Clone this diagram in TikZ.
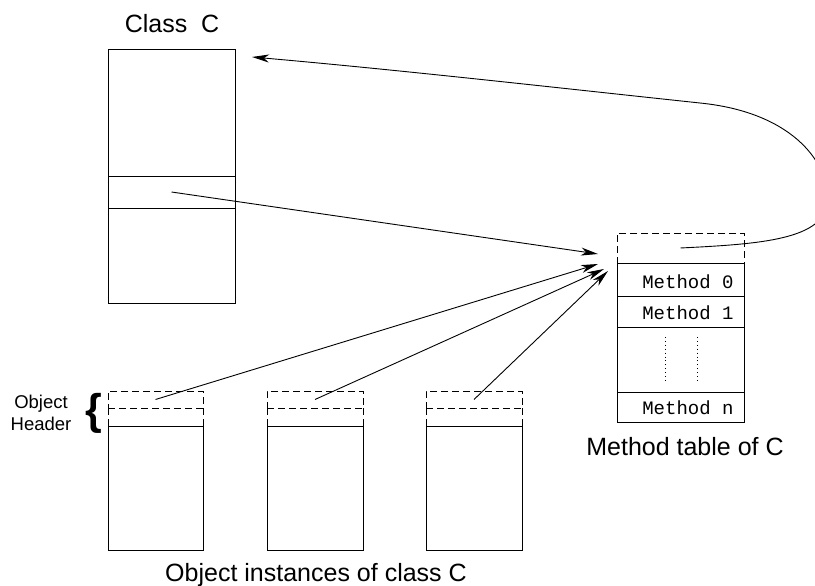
\documentclass[tikz,border=0pt]{standalone}
\usepackage{fontspec}
\setmainfont{Liberation Sans}
\newfontfamily\monofont{Liberation Mono}
\usetikzlibrary{arrows.meta}

\begin{document}
\begin{tikzpicture}[x=1pt,y=-1pt,line width=0.9pt,
  box/.style={draw,rectangle,inner sep=0pt,outer sep=0pt},
  dashline/.style={dash pattern=on 7pt off 4pt},
  dbox/.style={box,dashline},
  ptr/.style={-{Stealth[length=17pt,width=8pt,inset=5pt]}},
  lbl/.style={font=\fontsize{25}{30}\selectfont,inner sep=0pt,anchor=base},
  mth/.style={font=\monofont\fontsize{19}{22}\selectfont,inner sep=0pt,anchor=east},
  dots/.style={line width=0.8pt,dash pattern=on 0.9pt off 3pt}]

\useasboundingbox (0,0) rectangle (815,586);
\clip (0,0) rectangle (815,586);

% class record
\node[box,minimum width=127pt,minimum height=254pt] (cls) at (171.5,176) {};
\node[box,minimum width=127pt,minimum height=32pt] (clsslot) at (171.5,192) {};
\node[lbl] (clstitle) at (172,33) {Class~~C};

% method table
\node[dbox,minimum width=127pt,minimum height=30pt] (mthdr) at (680.5,248) {};
\node[box,minimum width=127pt,minimum height=33pt] (mt0) at (680.5,279.5) {};
\node[box,minimum width=127pt,minimum height=31pt] (mt1) at (680.5,311.5) {};
\node[box,minimum width=127pt,minimum height=65pt] (mtgap) at (680.5,359.5) {};
\node[box,minimum width=127pt,minimum height=30pt] (mtn) at (680.5,407) {};
\node[mth] (m0) at (734,282) {Method 0};
\node[mth] (m1) at (734,313) {Method 1};
\node[mth] (mn) at (734,408) {Method n};
\draw[dots] (665,337) -- (665,383);
\draw[dots] (697,337) -- (697,383);
\node[lbl] (mtcap) at (685,455) {Method table of C};

% object instances
\foreach \i/\cx/\w in {1/155.5/95, 2/315/96, 3/474/96} {
  \node[dbox,minimum width=\w pt,minimum height=17pt] (hdr\i) at (\cx,399.5) {};
  \node[box,minimum width=\w pt,minimum height=124pt] (body\i) at (\cx,488) {};
  \draw[dashline] (hdr\i.south west) -- (body\i.north west);
  \draw[dashline] (hdr\i.south east) -- (body\i.north east);
}
\node[lbl] (objcap) at (316,581) {Object instances of class C};

% header brace and its label
\node[font=\bfseries\fontsize{43}{43}\selectfont,inner sep=0pt,anchor=base] (brace) at (93.5,424.5) {\{};
\node[font=\fontsize{18.5}{22}\selectfont,align=center,inner sep=0pt] (hdrlbl) at (41,412.5) {Object\\Header};

% pointer ends
\coordinate (t0) at (598,254);
\coordinate (t1) at (598,264);
\coordinate (t2) at (604,269);
\coordinate (t3) at (608,271);
\coordinate (clsref) at (252,57);

% pointers into the method table
\draw[ptr] (clsslot.center) -- (t0);
\draw[ptr] (hdr1.center) -- (t1);
\draw[ptr] (hdr2.center) -- (t2);
\draw[ptr] (hdr3.center) -- (t3);

% method table back to its class
\draw[ptr] (mthdr.center) .. controls (760,244) and (826,240) .. (828,200)
  .. controls (828,160) and (790,112) .. (700,103)
  .. controls (550,87) and (400,70) .. (clsref);
\end{tikzpicture}
\end{document}
